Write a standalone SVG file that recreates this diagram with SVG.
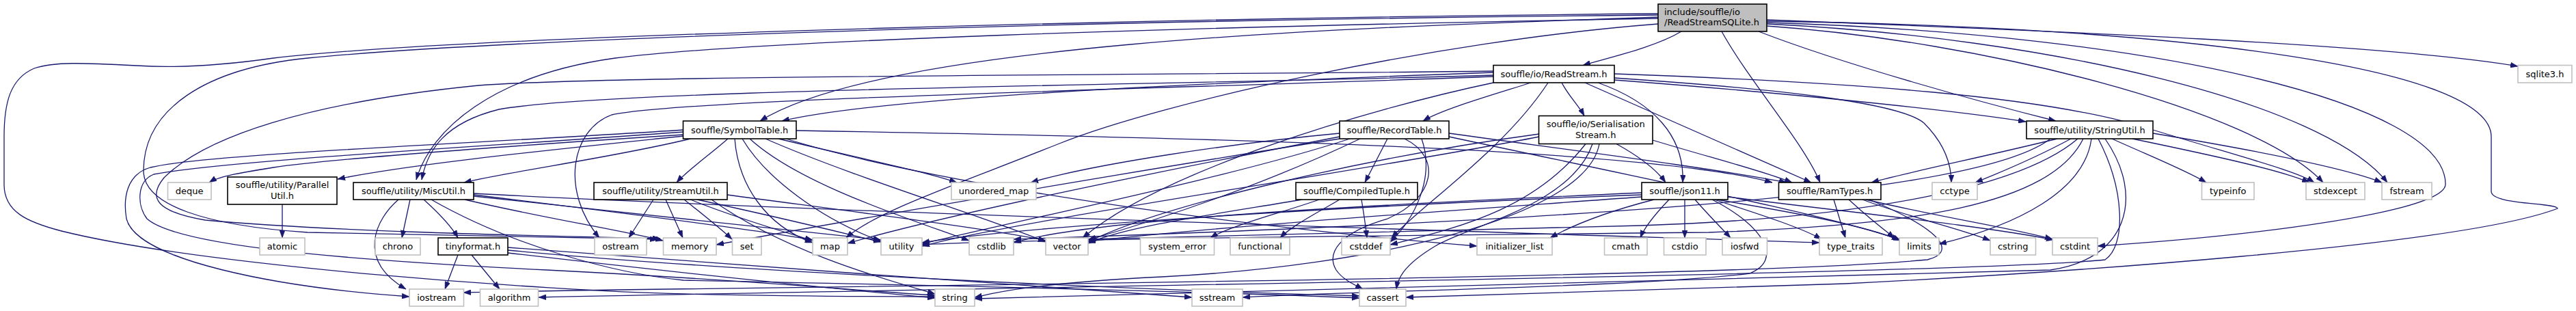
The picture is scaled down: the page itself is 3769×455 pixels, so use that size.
<svg xmlns="http://www.w3.org/2000/svg" width="3769" height="455" viewBox="0 0 3769 455">
<style>
.b rect{fill:#fff;stroke:#000;stroke-width:1.6}
.g rect{fill:#fff;stroke:#c0c0c0;stroke-width:1.6}
.r rect{fill:#bfbfbf;stroke:#000;stroke-width:1.6}
text{font-family:"DejaVu Sans","Liberation Sans",sans-serif;font-size:13px;fill:#000;text-anchor:middle}
.l text{text-anchor:start}
#edges path{fill:none;stroke:#191970;stroke-width:1.3;marker-end:url(#a)}
</style>
<defs>
<marker id="a" viewBox="0 0 11 8" refX="11" refY="4" markerWidth="11" markerHeight="8" markerUnits="userSpaceOnUse" orient="auto">
<path d="M0,0 L11,4 L0,8 z" fill="#191970" stroke="#191970" stroke-width="0.5"/>
</marker>
</defs>
<rect width="3769" height="455" fill="#fff"/>
<g id="edges">
<path d="M2460,46 C2420,70 2350,85 2316,95.5"/>
<path d="M2519,46 C2560,120 2640,210 2663,267"/>
<path d="M2573,46 C2700,95 2900,150 3008,177"/>
<path d="M2585,29 C3000,45 3500,65 3684,97"/>
<path d="M2585,38 C2900,60 3300,160 3399,267"/>
<path d="M2585,35 C3000,55 3400,150 3493,267"/>
<path d="M2585,33 C3150,50 3580,150 3578,270 C3576,310 3300,345 3069,360"/>
<path d="M2585,31 C3200,40 3645,100 3645,200 L3645,280 C3645,300 3740,296 3742,305 C3600,360 3000,400 2700,415 C2400,425 2150,432 2057,435"/>
<path d="M2426,25 C2000,40 1300,60 1112,177"/>
<path d="M2426,27 C1700,40 1100,60 900,85 C720,110 630,190 609,263"/>
<path d="M2426,22 C1500,30 700,60 450,85 C300,100 210,160 210,250 C210,300 300,330 450,340 C650,345 850,348 962,350"/>
<path d="M2426,20 C1800,25 700,50 400,85 C330,95 260,100 200,96 C120,92 80,90 50,100 C15,115 6,150 6,200 L6,270 C6,310 40,325 90,338 C300,390 800,425 1000,430 C1200,434 1300,434 1368,434"/>
<path d="M2426,35 C2100,60 1700,150 1550,210 C1400,270 1280,310 1238,348"/>
<path d="M2240,121 C2180,140 2110,160 2082,177"/>
<path d="M2285,121 C2295,140 2310,155 2318,169.5"/>
<path d="M2338,121 C2420,150 2465,200 2462,267"/>
<path d="M2319,121 L2650,267"/>
<path d="M2362,114 C2600,130 2780,150 2815,180 C2845,210 2855,240 2855,267"/>
<path d="M2362,117 C2600,135 2850,160 2964,178"/>
<path d="M2362,108 C2700,120 3000,140 3150,190 C3280,230 3360,250 3386,267"/>
<path d="M2185,106 C1800,120 1300,140 1144,177"/>
<path d="M2185,110 C1700,125 900,130 730,160 C650,180 625,220 617,263"/>
<path d="M2185,112 C1700,130 1000,145 895,168 C835,190 820,280 877,348"/>
<path d="M2265,121 C2200,220 2080,300 2036,348"/>
<path d="M2185,104 C1700,110 900,110 700,125 C450,150 300,200 240,260 C215,290 230,310 300,322 C500,340 800,345 966,349"/>
<path d="M2185,121 C2000,160 1700,250 1584,348"/>
<path d="M1000,197 C800,210 500,230 400,245 C350,253 320,258 306,267"/>
<path d="M1000,199 C800,220 600,240 494,262"/>
<path d="M1010,203 C900,230 750,250 679,267"/>
<path d="M1065,203 C1040,225 1005,250 990,267"/>
<path d="M1139,203 C1250,230 1350,250 1400,267"/>
<path d="M1165,191 C1700,200 2400,215 2593,267"/>
<path d="M1000,190 C700,210 300,225 220,245 C185,255 180,290 185,320 C200,380 400,420 599,434"/>
<path d="M1000,193 C700,215 330,235 225,255 C200,265 200,300 215,320 C260,360 500,380 800,395 C1100,410 1250,425 1368,432"/>
<path d="M1097,203 C1170,270 1330,320 1418,352"/>
<path d="M1086,203 C1120,260 1200,320 1289,353"/>
<path d="M1120,203 C1250,260 1450,320 1530,354"/>
<path d="M1075,203 C1080,270 1120,330 1189,355"/>
<path d="M1150,203 C1400,280 1900,340 2161,360"/>
<path d="M2030,203 L1997,267"/>
<path d="M2120,195 C2300,220 2500,245 2614,267"/>
<path d="M1960,195 C1800,210 1600,240 1508,267"/>
<path d="M2055,203 C2110,230 2100,290 2030,320 C1960,340 1940,370 1955,395 C1965,410 1985,418 1994,423"/>
<path d="M2080,203 C2100,260 2070,320 2034,354"/>
<path d="M2120,200 C2400,260 2700,320 2779,351"/>
<path d="M1960,200 C1700,250 1400,310 1240,356"/>
<path d="M1975,203 C1800,260 1500,320 1349,357"/>
<path d="M1990,203 C1850,270 1700,320 1592,351"/>
<path d="M1960,203 C1600,260 1200,330 1048,358"/>
<path d="M2365,210.5 C2400,230 2425,250 2437,267"/>
<path d="M2418,205 C2500,230 2580,250 2622,267"/>
<path d="M2330,210.5 C2300,300 2150,330 2100,360 C2050,390 2045,410 2043,423"/>
<path d="M2320,210.5 C2250,300 2150,330 2034,358"/>
<path d="M2252,196 C2000,230 1700,300 1592,354"/>
<path d="M2252,200 C2000,250 1500,320 1349,360"/>
<path d="M2340,210.5 C2320,320 2000,390 1700,405 C1500,415 1450,430 1426,435"/>
<path d="M1930,292 C1880,310 1800,330 1771,348"/>
<path d="M1960,292 C1930,310 1890,330 1873,348"/>
<path d="M1992,292 C1995,310 1998,330 2000,348"/>
<path d="M1905,292 C1800,310 1650,330 1592,356"/>
<path d="M2420,292 C2350,310 2300,330 2268,348"/>
<path d="M2442,292 C2420,315 2405,335 2400,348"/>
<path d="M2465,292 L2465,348"/>
<path d="M2480,292 C2500,315 2520,335 2532,348"/>
<path d="M2508,292 C2580,315 2640,335 2665,350"/>
<path d="M2512,292 C2620,310 2730,330 2781,352"/>
<path d="M2528,288 C2700,310 2900,330 3005,351"/>
<path d="M2402,282 C2000,300 1600,320 1483,355"/>
<path d="M2402,285 C2000,300 1500,330 1349,355"/>
<path d="M2402,288 C2100,310 1800,330 1592,353"/>
<path d="M2505,292 C2580,330 2610,380 2560,400 C2400,420 2000,425 1818,435"/>
<path d="M2683,292 L2700,348"/>
<path d="M2705,292 C2730,315 2755,335 2772,348"/>
<path d="M2725,292 C2800,320 2870,335 2912,352"/>
<path d="M2730,292 C2850,320 2950,335 3003,350"/>
<path d="M2735,292 C2850,340 2860,370 2820,380 C2500,410 1000,420 678,428"/>
<path d="M3010,203 C2900,230 2800,250 2738,267"/>
<path d="M3030,203 C2980,230 2920,255 2890,267"/>
<path d="M3090,203 C3150,230 3200,250 3228,267"/>
<path d="M3120,203 C3250,230 3340,250 3379,267"/>
<path d="M3150,195 C3300,220 3430,245 3485,267"/>
<path d="M3060,203 C3050,280 2950,330 2837,357"/>
<path d="M3040,203 C2950,280 2700,320 2400,330 C2000,340 1700,345 1592,350"/>
<path d="M3048,203 C3000,300 2800,330 2500,340 C2000,345 1500,350 1349,358"/>
<path d="M3070,203 C3110,280 3110,360 3080,380 C2900,400 1500,420 788,435"/>
<path d="M3080,203 C3140,290 3110,380 3000,395 C2500,410 1800,425 1426,437"/>
<path d="M3000,203 C2900,280 2400,320 1483,350"/>
<path d="M583,292 C550,320 520,380 594,423"/>
<path d="M600,292 L588,348"/>
<path d="M620,292 C640,310 660,330 670,348"/>
<path d="M680,292 C800,320 900,335 970,352"/>
<path d="M693,285 C900,310 1100,335 1189,351"/>
<path d="M693,287 C900,310 1150,335 1289,351"/>
<path d="M693,283 C1200,310 2200,340 2662,355"/>
<path d="M631,292 C750,360 900,400 1000,410 C1500,420 1850,430 1989,436"/>
<path d="M956,292 L920,348"/>
<path d="M974,292 L999,348"/>
<path d="M1001,292 C1030,315 1055,335 1071,350"/>
<path d="M1010,292 C1080,320 1150,340 1189,352"/>
<path d="M1020,292 C1150,320 1250,345 1289,354"/>
<path d="M1064,285 C1250,310 1450,335 1530,352"/>
<path d="M1041,292 C1150,370 1300,410 1368,430"/>
<path d="M670,373 L651,423"/>
<path d="M690,373 L731,423"/>
<path d="M743,362 C1000,380 1500,420 1744,435"/>
<path d="M743,366 C1100,400 1700,425 1989,433"/>
<path d="M743,370 C1000,400 1250,425 1368,436"/>
<path d="M413,299 L413,348"/>
</g>
<g id="node-ReadStreamSQLite" class="r l"><rect x="2426" y="6" width="159" height="40"/><text x="2435" y="21.5">include/souffle/io</text><text x="2435" y="37">/ReadStreamSQLite.h</text></g>
<g id="node-ReadStream" class="b"><rect x="2185" y="95.5" width="177" height="25.5"/><text x="2273.5" y="112.7">souffle/io/ReadStream.h</text></g>
<g id="node-sqlite3" class="g"><rect x="3684" y="95.5" width="79" height="25.5"/><text x="3723.5" y="112.7">sqlite3.h</text></g>
<g id="node-SymbolTable" class="b"><rect x="999.5" y="177" width="165.5" height="26"/><text x="1082.2" y="194.5">souffle/SymbolTable.h</text></g>
<g id="node-RecordTable" class="b"><rect x="1960" y="177" width="160" height="26"/><text x="2040" y="194.5">souffle/RecordTable.h</text></g>
<g id="node-SerialisationStream" class="b"><rect x="2251.5" y="169.5" width="166.5" height="41"/><text x="2334.7" y="186">souffle/io/Serialisation</text><text x="2334.7" y="201.5">Stream.h</text></g>
<g id="node-StringUtil" class="b"><rect x="2965" y="177" width="185" height="26"/><text x="3057.5" y="194.5">souffle/utility/StringUtil.h</text></g>
<g id="node-deque" class="g"><rect x="245.5" y="267" width="63.5" height="25"/><text x="277.2" y="284">deque</text></g>
<g id="node-ParallelUtil" class="b"><rect x="333" y="259" width="160" height="40"/><text x="413" y="275">souffle/utility/Parallel</text><text x="413" y="290.5">Util.h</text></g>
<g id="node-MiscUtil" class="b"><rect x="517" y="267" width="176" height="25"/><text x="605" y="284">souffle/utility/MiscUtil.h</text></g>
<g id="node-StreamUtil" class="b"><rect x="869" y="267" width="195" height="25"/><text x="966.5" y="284">souffle/utility/StreamUtil.h</text></g>
<g id="node-unordered_map" class="g"><rect x="1392" y="267" width="124" height="25"/><text x="1454" y="284">unordered_map</text></g>
<g id="node-CompiledTuple" class="b"><rect x="1896" y="267" width="178" height="25"/><text x="1985" y="284">souffle/CompiledTuple.h</text></g>
<g id="node-json11" class="b"><rect x="2402" y="267" width="126" height="25"/><text x="2465" y="284">souffle/json11.h</text></g>
<g id="node-RamTypes" class="b"><rect x="2602.5" y="267" width="149.5" height="25"/><text x="2677.2" y="284">souffle/RamTypes.h</text></g>
<g id="node-cctype" class="g"><rect x="2827" y="267" width="66" height="25"/><text x="2860" y="284">cctype</text></g>
<g id="node-typeinfo" class="g"><rect x="3221.5" y="267" width="76.5" height="25"/><text x="3259.7" y="284">typeinfo</text></g>
<g id="node-stdexcept" class="g"><rect x="3374" y="267" width="86" height="25"/><text x="3417" y="284">stdexcept</text></g>
<g id="node-fstream" class="g"><rect x="3485" y="267" width="73" height="25"/><text x="3521.5" y="284">fstream</text></g>
<g id="node-atomic" class="g"><rect x="380" y="348" width="66" height="25"/><text x="413" y="365">atomic</text></g>
<g id="node-chrono" class="g"><rect x="549" y="348" width="66" height="25"/><text x="582" y="365">chrono</text></g>
<g id="node-tinyformat" class="b"><rect x="641" y="348" width="102" height="25"/><text x="692" y="365">tinyformat.h</text></g>
<g id="node-ostream" class="g"><rect x="870" y="348" width="76" height="25"/><text x="908" y="365">ostream</text></g>
<g id="node-memory" class="g"><rect x="970.5" y="348" width="77.5" height="25"/><text x="1009.2" y="365">memory</text></g>
<g id="node-set" class="g"><rect x="1071.5" y="348" width="42.5" height="25"/><text x="1092.7" y="365">set</text></g>
<g id="node-map" class="g"><rect x="1189" y="348" width="51" height="25"/><text x="1214.5" y="365">map</text></g>
<g id="node-utility" class="g"><rect x="1289" y="348" width="60" height="25"/><text x="1319" y="365">utility</text></g>
<g id="node-cstdlib" class="g"><rect x="1418" y="348" width="65" height="25"/><text x="1450.5" y="365">cstdlib</text></g>
<g id="node-vector" class="g"><rect x="1530" y="348" width="62" height="25"/><text x="1561" y="365">vector</text></g>
<g id="node-system_error" class="g"><rect x="1668.5" y="348" width="108" height="25"/><text x="1722.5" y="365">system_error</text></g>
<g id="node-functional" class="g"><rect x="1800" y="348" width="87" height="25"/><text x="1843.5" y="365">functional</text></g>
<g id="node-cstddef" class="g"><rect x="1963" y="348" width="71" height="25"/><text x="1998.5" y="365">cstddef</text></g>
<g id="node-initializer_list" class="g"><rect x="2161" y="348" width="110" height="25"/><text x="2216" y="365">initializer_list</text></g>
<g id="node-cmath" class="g"><rect x="2347.5" y="348" width="62.5" height="25"/><text x="2378.7" y="365">cmath</text></g>
<g id="node-cstdio" class="g"><rect x="2434.5" y="348" width="61.5" height="25"/><text x="2465.2" y="365">cstdio</text></g>
<g id="node-iosfwd" class="g"><rect x="2520" y="348" width="65.5" height="25"/><text x="2552.7" y="365">iosfwd</text></g>
<g id="node-type_traits" class="g"><rect x="2662" y="348" width="92" height="25"/><text x="2708" y="365">type_traits</text></g>
<g id="node-limits" class="g"><rect x="2779" y="348" width="58" height="25"/><text x="2808" y="365">limits</text></g>
<g id="node-cstring" class="g"><rect x="2912" y="348" width="66.5" height="25"/><text x="2945.2" y="365">cstring</text></g>
<g id="node-cstdint" class="g"><rect x="3003" y="348" width="66" height="25"/><text x="3036" y="365">cstdint</text></g>
<g id="node-iostream" class="g"><rect x="599" y="423" width="79.5" height="25"/><text x="638.7" y="440">iostream</text></g>
<g id="node-algorithm" class="g"><rect x="702.5" y="423" width="85" height="25"/><text x="745" y="440">algorithm</text></g>
<g id="node-string" class="g"><rect x="1368" y="423" width="58" height="25"/><text x="1397" y="440">string</text></g>
<g id="node-sstream" class="g"><rect x="1744" y="423" width="74" height="25"/><text x="1781" y="440">sstream</text></g>
<g id="node-cassert" class="g"><rect x="1989" y="423" width="68" height="25"/><text x="2023" y="440">cassert</text></g>
</svg>
